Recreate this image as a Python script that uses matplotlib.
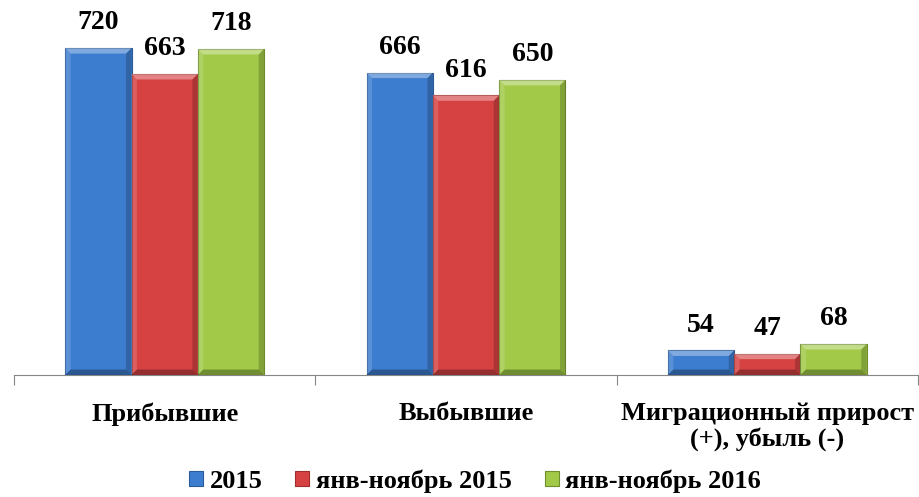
import matplotlib.pyplot as plt
from matplotlib.patches import Polygon
import numpy as np

plt.rcParams['font.family'] = ['Liberation Serif', 'DejaVu Serif']

# данные
categories = ['Прибывшие', 'Выбывшие', 'Миграционный прирост\n(+), убыль (-)']
series_names = ['2015', 'янв-ноябрь 2015', 'янв-ноябрь 2016']
v_2015 = [720, 666, 54]
v_nov2015 = [663, 616, 47]
v_nov2016 = [718, 650, 68]
colors = ['#3D7DCF', '#D64242', '#A2CA48']
edges = ['#2A5A99', '#9E2E2E', '#6F8E2C']


def bevel(ax, rect, dx=0.018, dy=12):
    # грани "фаски" как в Excel
    x0, y0 = rect.get_x(), rect.get_y()
    x1, y1 = x0 + rect.get_width(), y0 + rect.get_height()
    dy = min(dy, rect.get_height() / 3)
    faces = [
        ([(x0, y1), (x1, y1), (x1 - dx, y1 - dy), (x0 + dx, y1 - dy)], 'white', 0.35),
        ([(x0, y0), (x0, y1), (x0 + dx, y1 - dy), (x0 + dx, y0 + dy)], 'white', 0.15),
        ([(x1, y0), (x1, y1), (x1 - dx, y1 - dy), (x1 - dx, y0 + dy)], 'black', 0.2),
        ([(x0, y0), (x1, y0), (x1 - dx, y0 + dy), (x0 + dx, y0 + dy)], 'black', 0.3),
    ]
    for pts, c, a in faces:
        ax.add_patch(Polygon(pts, closed=True, facecolor=c, alpha=a,
                             edgecolor='none', zorder=4))


fig = plt.figure(figsize=(9.2, 4.97), dpi=100)
ax = fig.add_axes([0.0152, 0.2455, 0.9826, 0.7545])

x = np.arange(len(categories))
w = 0.22
for i, vals in enumerate([v_2015, v_nov2015, v_nov2016]):
    pos = x + (i - 1) * w
    bars = ax.bar(pos, vals, width=w, color=colors[i], edgecolor=edges[i],
                  linewidth=0.8, label=series_names[i], zorder=3)
    for b in bars:
        bevel(ax, b)
    for p, v in zip(pos, vals):
        ax.text(p, v + 28, str(v), ha='center', va='bottom',
                fontsize=20, fontweight='bold')

ax.set_xlim(-0.5, len(categories) - 0.5)
ax.set_ylim(0, 826)
ax.set_yticks([])
for s in ['top', 'right', 'left']:
    ax.spines[s].set_visible(False)
ax.spines['bottom'].set_color('#868686')
ax.set_xticks(np.arange(-0.5, len(categories)))
ax.set_xticklabels([])
ax.tick_params(axis='x', length=7, color='#868686', direction='out')
for xi, c in zip(x, categories):
    ax.text(xi, -60, c, ha='center', va='top', fontsize=19,
            fontweight='bold', linespacing=1.08)

ax.legend(loc='center', bbox_to_anchor=(0.51, -0.283), ncol=3,
          frameon=False, prop={'size': 19, 'weight': 'bold'},
          handlelength=0.53, handleheight=0.53, handletextpad=0.25,
          columnspacing=1.25)

fig.savefig('out.png')
